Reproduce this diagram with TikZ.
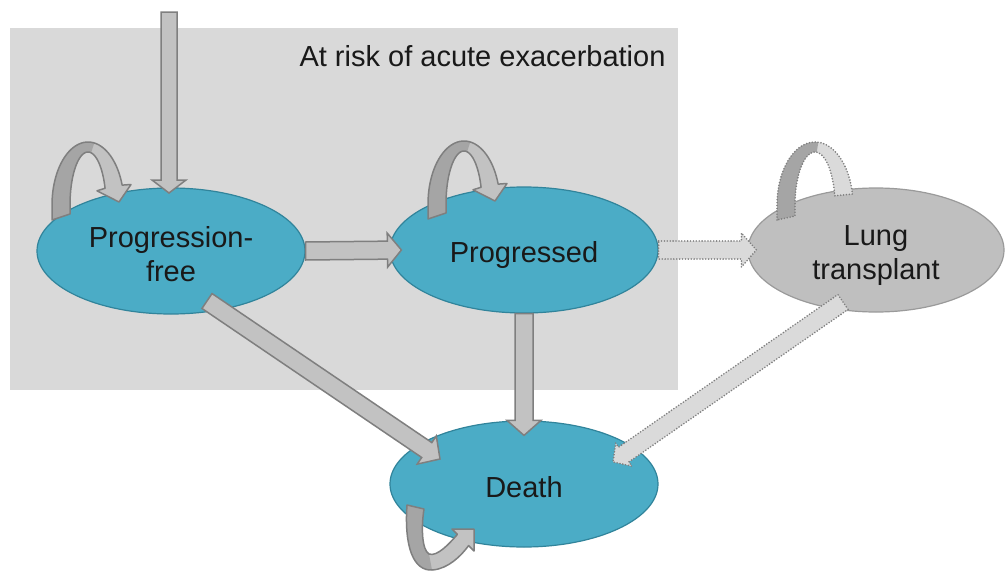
\documentclass[tikz,border=0pt]{standalone}
\usepackage{fontspec}
\setmainfont{Liberation Sans}
\usetikzlibrary{shapes.geometric,calc}
\definecolor{stateblue}{HTML}{4BACC6}
\definecolor{stateedge}{HTML}{31849B}
\definecolor{ltfill}{HTML}{BFBFBF}
\definecolor{ltedge}{HTML}{9A9A9A}
\definecolor{zonegray}{HTML}{D9D9D9}
\definecolor{arrowfill}{HTML}{C2C2C2}
\definecolor{arrowedge}{HTML}{7F7F7F}
\definecolor{loopdarkc}{HTML}{A5A5A5}
\definecolor{dotfill}{HTML}{DADADA}
\tikzset{
  state/.style={ellipse, draw=stateedge, fill=stateblue, line width=1.2pt,
    minimum width=268pt, minimum height=126pt, inner sep=0pt},
  statetext/.style={align=center, inner sep=0pt, font=\fontsize{29}{34}\selectfont, text=black!90},
  ltstate/.style={state, draw=ltedge, fill=ltfill, minimum width=256pt, minimum height=124pt},
  zone/.style={fill=zonegray, draw=none, minimum width=668pt, minimum height=362pt, inner sep=0pt},
  zonelabel/.style={font=\fontsize{29}{34}\selectfont, inner sep=0pt, text=black!90},
  solidarrow/.style={fill=arrowfill, draw=arrowedge, line width=1.5pt, line join=miter},
  dotarrow/.style={fill=dotfill, draw=arrowedge, line width=1.8pt, dash pattern=on 0pt off 2.9pt, line cap=round, line join=round},
  loopedge/.style={draw=arrowedge, line width=1.5pt, line join=round},
  loopdotedge/.style={draw=arrowedge, line width=1.8pt, dash pattern=on 0pt off 2.9pt, line cap=round, line join=round},
}
% block arrow: style, from, to, half shaft, half head, head length
\newcommand{\blockarrow}[6]{%
  \coordinate (hb) at ($(#3)!#6!(#2)$);
  \path[#1] ($(#2)!#4!90:(#3)$) -- ($(hb)!#4!90:(#3)$) -- ($(hb)!#5!90:(#3)$) -- (#3)
    -- ($(hb)!#5!-90:(#3)$) -- ($(hb)!#4!-90:(#3)$) -- ($(#2)!#4!-90:(#3)$) -- cycle;
}
% curved self loop above a state (drawn in local pixel coordinates)
\newcommand{\solidloop}{%
  \fill[arrowfill] (52,220) -- plot[domain=180:341.6,samples=40,variable=\t] ({88+36*cos(\t)},{205+63*sin(\t)})
    -- (131,184.5) -- (119,202) -- (97,190.8)
    -- plot[domain=341.6:180,samples=40,variable=\t] ({88+18*cos(\t)},{205+53*sin(\t)}) -- (70,214) -- cycle;
  \fill[loopdarkc] (52,220) -- plot[domain=180:280,samples=30,variable=\t] ({88+36*cos(\t)},{205+63*sin(\t)})
    -- plot[domain=280:180,samples=30,variable=\t] ({88+18*cos(\t)},{205+53*sin(\t)}) -- (70,214) -- cycle;
  \draw[loopedge] (52,220) -- plot[domain=180:341.6,samples=40,variable=\t] ({88+36*cos(\t)},{205+63*sin(\t)})
    -- (131,184.5) -- (119,202) -- (97,190.8)
    -- plot[domain=341.6:180,samples=40,variable=\t] ({88+18*cos(\t)},{205+53*sin(\t)}) -- (70,214) -- cycle;
}
\begin{document}
\begin{tikzpicture}[x=1pt,y=-1pt]
\useasboundingbox (0,0) rectangle (1005,573);
\fill[white] (0,0) rectangle (1005,573);

% region at risk of acute exacerbation
\node[zone] (riskzone) at (344,209) {};
\node[zonelabel] (risklabel) at (482.5,56.5) {At risk of acute exacerbation};

% states
\node[state, label={[statetext, yshift=-3pt]center:Progression-\\free}] (pf) at (171,251) {};
\node[state, label={[statetext, yshift=-5pt]center:Progressed}] (pg) at (524,250) {};
\node[ltstate, label={[statetext, yshift=-6pt]center:Lung\\transplant}] (lt) at (876,250) {};
\node[state, label={[statetext, yshift=-3pt]center:Death}] (death) at (524,484) {};

% connector end points
\coordinate (entry) at (169,12);
\coordinate (pfIn) at (169,193);
\coordinate (pgIn) at ($(pg.west)+(12,0)$);
\coordinate (pfDiag) at (207,301);
\coordinate (deathInL) at (440,459);
\coordinate (deathInT) at ($(death.north)+(0,15)$);
\coordinate (ltIn) at ($(lt.west)+(9,0)$);
\coordinate (ltOut) at (843,302);
\coordinate (deathInR) at (613,462);

% straight transitions
\blockarrow{solidarrow}{entry}{pfIn}{8pt}{17pt}{13pt}
\blockarrow{solidarrow}{pf.east}{pgIn}{9pt}{17pt}{14pt}
\blockarrow{solidarrow}{pfDiag}{deathInL}{9pt}{17pt}{16pt}
\blockarrow{solidarrow}{pg.south}{deathInT}{9pt}{17pt}{15pt}
\blockarrow{dotarrow}{pg.east}{ltIn}{9pt}{17pt}{15pt}
\blockarrow{dotarrow}{ltOut}{deathInR}{9pt}{14pt}{13pt}

% self loops
\solidloop
\begin{scope}[shift={(376,-1)}]
\solidloop
\end{scope}

% lung transplant self loop (dotted, no visible head)
\fill[dotfill] (777,220) -- plot[domain=180:350,samples=40,variable=\t] ({815+38*cos(\t)},{205+63*sin(\t)})
  -- plot[domain=350:180,samples=40,variable=\t] ({815+20*cos(\t)},{205+53*sin(\t)}) -- (795,216) -- cycle;
\fill[loopdarkc] (777,220) -- plot[domain=180:275,samples=30,variable=\t] ({815+38*cos(\t)},{205+63*sin(\t)})
  -- plot[domain=275:180,samples=30,variable=\t] ({815+20*cos(\t)},{205+53*sin(\t)}) -- (795,216) -- cycle;
\draw[loopdotedge] (777,220) -- plot[domain=180:350,samples=40,variable=\t] ({815+38*cos(\t)},{205+63*sin(\t)})
  -- plot[domain=350:180,samples=40,variable=\t] ({815+20*cos(\t)},{205+53*sin(\t)}) -- (795,216) -- cycle;

% death self loop (below)
\fill[arrowfill] (407,505) .. controls (404,548) and (414,571) .. (432,570)
  .. controls (448,569) and (461,556) .. (468.6,545.6)
  -- (474,551) -- (474,529) -- (452,529) -- (457.4,534.4)
  .. controls (449,544) and (437,557) .. (429,554)
  .. controls (422,550) and (421,528) .. (424,509) -- cycle;
\fill[loopdarkc] (407,505) .. controls (404,548) and (414,571) .. (432,570)
  -- (429,554) .. controls (422,550) and (421,528) .. (424,509) -- cycle;
\draw[loopedge] (407,505) .. controls (404,548) and (414,571) .. (432,570)
  .. controls (448,569) and (461,556) .. (468.6,545.6)
  -- (474,551) -- (474,529) -- (452,529) -- (457.4,534.4)
  .. controls (449,544) and (437,557) .. (429,554)
  .. controls (422,550) and (421,528) .. (424,509) -- cycle;
\end{tikzpicture}
\end{document}
